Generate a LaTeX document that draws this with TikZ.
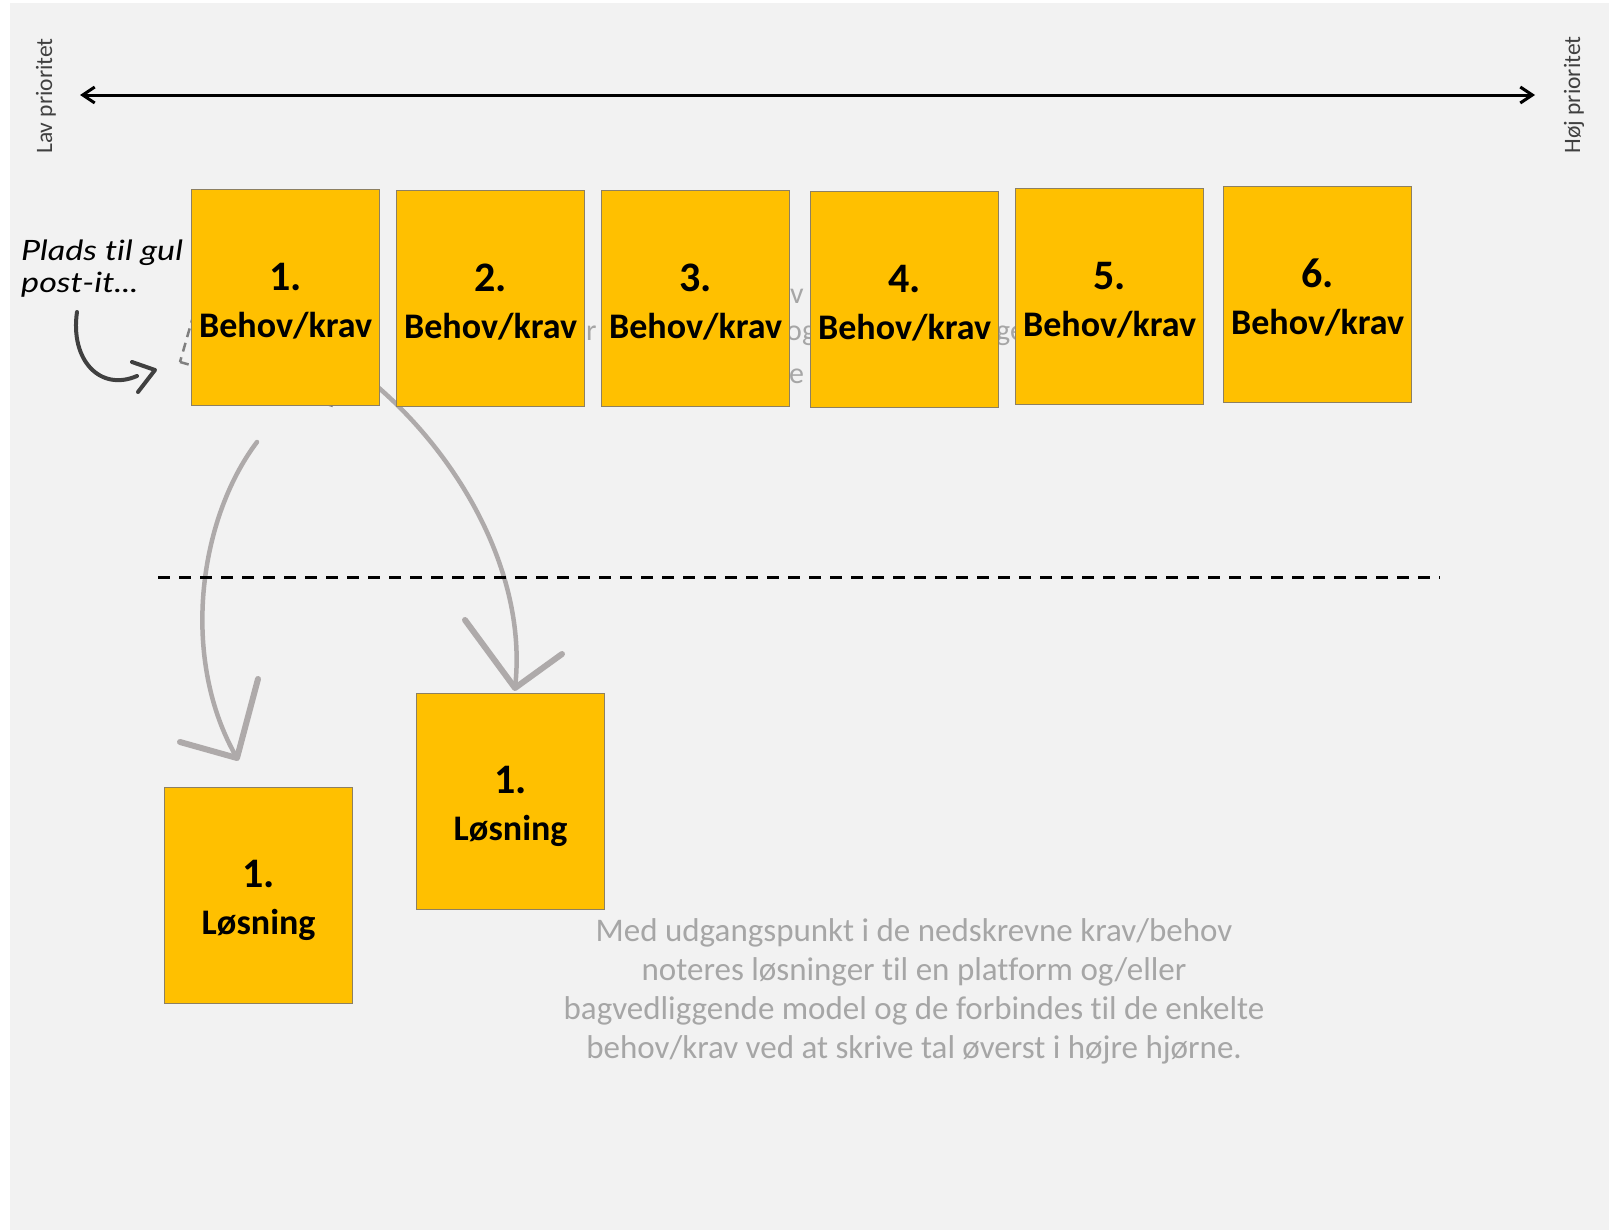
\documentclass[tikz,border=0pt]{standalone}
\usepackage{fontspec}
\setmainfont[Ligatures=NoCommon]{Carlito}
\newfontfamily\handfont[FakeStretch=1.22,Ligatures=NoCommon]{Lato}
\usetikzlibrary{arrows.meta,calc}
\definecolor{bg}{HTML}{F2F2F2}
\definecolor{postityellow}{HTML}{FFC000}
\definecolor{postitline}{HTML}{8D8062}
\definecolor{arrowgray}{HTML}{AEAAAA}
\definecolor{notegray}{HTML}{A6A6A6}
\definecolor{axisgray}{HTML}{404040}
\definecolor{dashgray}{HTML}{808080}
\tikzset{
  postit/.style={draw=postitline, fill=postityellow, line width=1.2pt, inner sep=0pt,
    minimum width=188pt, minimum height=216pt, anchor=north west},
  numtxt/.style={font=\bfseries\fontsize{42}{42}\selectfont, anchor=base, inner sep=0pt},
  lbltxt/.style={font=\bfseries\fontsize{36}{36}\selectfont, anchor=base, inner sep=0pt},
  axislabel/.style={font=\fontsize{23.5}{23.5}\selectfont, text=axisgray, rotate=90, inner sep=0pt},
  fragtxt/.style={font=\fontsize{30}{39}\selectfont, text=notegray, inner sep=0pt},
  notetxt/.style={font=\fontsize{33}{39}\selectfont, text=notegray, inner sep=0pt},
  grayarrow/.style={draw=arrowgray, line width=4.5pt, line cap=round},
  grayhead/.style={draw=arrowgray, line width=6pt, line cap=round, line join=round},
  handtxt/.style={font=\handfont\itshape\fontsize{28}{32}\selectfont, anchor=base west, inner sep=0pt, align=left},
}
\newcommand\PostIt[6]{%
  \node[postit] (#1) at (#2,#3) {};
  \node[numtxt] (#1-num) at ($(#1.north)+(0,#6)$) {#4};
  \node[lbltxt] (#1-lbl) at ($(#1.north)+(0,#6+47)$) {#5};
}
\begin{document}
\begin{tikzpicture}[x=1pt,y=-1pt]
\useasboundingbox (0,0) rectangle (1609,1231);
\fill[white] (0,0) rectangle (1609,1231);
\fill[bg] (10,3) rectangle (1609,1230);

% axis
\coordinate (lavend) at (80,95);
\coordinate (hojend) at (1535,95);
\draw[line width=3pt, {Straight Barb[length=12pt,width=16pt]}-{Straight Barb[length=12pt,width=16pt]}] (lavend) -- (hojend);
\node[axislabel] (lav) at (46,96) {Lav prioritet};
\node[axislabel] (hoj) at (1574,95) {Høj prioritet};

% dashed placeholder behind post-it 1
\draw[dashgray, line width=2.5pt, dash pattern=on 9pt off 6pt] (180,362) -- (333.8,406.2) -- (375.2,262.1) -- (221.4,217.9) -- cycle;

% hidden text fragments
\node[fragtxt, anchor=base west] (f1) at (790,303) {v};
\node[fragtxt, anchor=base west] (f2) at (586,340) {r};
\node[fragtxt, anchor=base west] (f3) at (786,340) {og};
\node[fragtxt, anchor=base west] (f4) at (996,340) {ge};
\node[fragtxt, anchor=base west] (f5) at (789,383) {e};

% arrow B (starts beneath post-it 1)
\coordinate (bstart) at (340,358);
\coordinate (btip) at (515,688);
\draw[grayarrow] (bstart) .. controls (440,425) and (530,560) .. (btip);

% post-its
\PostIt{b1}{191}{189}{1.}{Behov/krav}{101}
\PostIt{b2}{396}{190}{2.}{Behov/krav}{101}
\PostIt{b3}{601}{190}{3.}{Behov/krav}{101}
\PostIt{b4}{810}{191}{4.}{Behov/krav}{101}
\PostIt{b5}{1015}{188}{5.}{Behov/krav}{101}
\PostIt{b6}{1223}{186}{6.}{Behov/krav}{101}
\PostIt{l1}{164}{787}{1.}{Løsning}{100}
\PostIt{l2}{416}{693}{1.}{Løsning}{100}

% arrow B head
\draw[grayhead] (465,620) -- (btip) -- (562,654);

% arrow A
\coordinate (astart) at (257,442);
\coordinate (atip) at (237,758);
\draw[grayarrow] (astart) .. controls (198,520) and (180,660) .. (atip);
\draw[grayhead] (258,679) -- (atip) -- (180,742);

% dashed divider
\coordinate (dl) at (158,577);
\coordinate (dr) at (1440,577);
\draw[black, line width=3pt, dash pattern=on 12pt off 9pt] (dl) -- (dr);

% handwriting
\node[handtxt] (hand1) at (21,260) {Plads til gul};
\node[handtxt] (hand2) at (21,292) {post-it...};
\coordinate (cstart) at (77,312);
\coordinate (ctip) at (155,370);
\draw[axisgray, line width=4pt, line cap=round] (cstart) .. controls (70,360) and (100,392) .. (137,376);
\draw[axisgray, line width=4pt, line cap=round, line join=round] (132,362) -- (ctip) -- (138,392);

% note
\node[notetxt, align=center, anchor=base] (note) at (914,1058) {Med udgangspunkt i de nedskrevne krav/behov\\noteres løsninger til en platform og/eller\\bagvedliggende model og de forbindes til de enkelte\\behov/krav ved at skrive tal øverst i højre hjørne.};
\end{tikzpicture}
\end{document}
